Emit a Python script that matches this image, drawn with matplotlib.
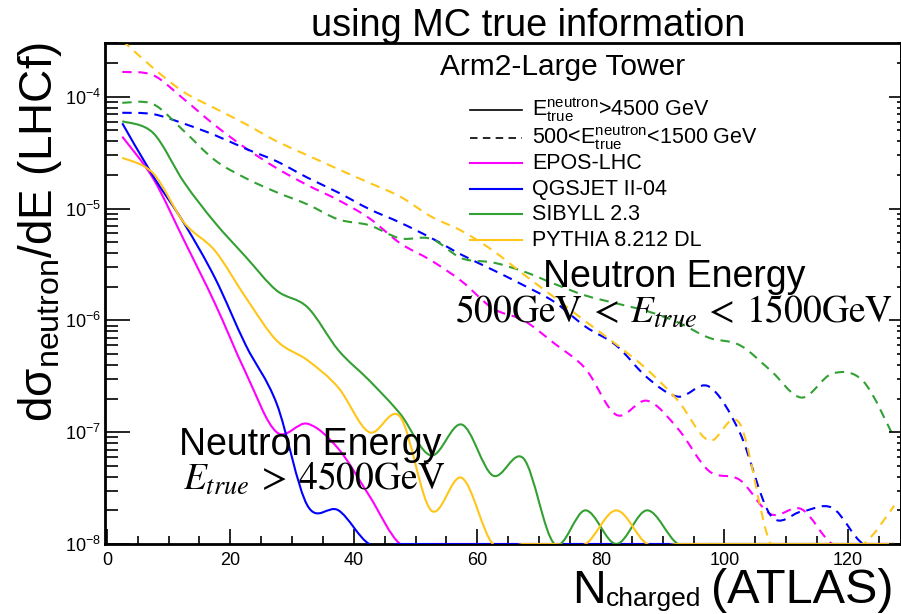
import numpy as np
import matplotlib
matplotlib.use("Agg")
import matplotlib.pyplot as plt
from matplotlib.path import Path
from matplotlib.patches import PathPatch
from matplotlib.lines import Line2D
from matplotlib.ticker import MultipleLocator, LogLocator, NullFormatter

plt.rcParams['font.family'] = ['Liberation Sans', 'DejaVu Sans']
plt.rcParams['mathtext.fontset'] = 'custom'
plt.rcParams['mathtext.rm'] = 'Liberation Sans'
plt.rcParams['mathtext.it'] = 'Liberation Sans:italic'
plt.rcParams['mathtext.bf'] = 'Liberation Sans:bold'
plt.rcParams['mathtext.sf'] = 'Liberation Sans'

W, H = 901, 614
FLOOR = 1e-8

# bin centres of N_charged (5 wide)
n_charged = [2.5, 7.5, 12.5, 17.5, 22.5, 27.5, 32.5, 37.5, 42.5, 47.5, 52.5, 57.5, 62.5,
             67.5, 72.5, 77.5, 82.5, 87.5, 92.5, 97.5, 102.5, 107.5, 112.5, 117.5, 122.5, 127.5]

# E_true > 4500 GeV (solid)
epos_hi = [4.4e-5, 1.86e-5, 5.2e-6, 1.42e-6, 3.4e-7, 1.0e-7, 1.19e-7, 7.1e-8, 2.7e-8, 0, 0, 0, 0,
           0, 0, 0, 0, 0, 0, 0, 0, 0, 0, 0, 0, 0]
qgs_hi = [5.8e-5, 1.95e-5, 7.4e-6, 2.4e-6, 6.0e-7, 1.8e-7, 2.2e-8, 2.0e-8, 0, 0, 0, 0, 0,
          0, 0, 0, 0, 0, 0, 0, 0, 0, 0, 0, 0, 0]
sib_hi = [6.05e-5, 4.75e-5, 1.72e-5, 7.5e-6, 3.7e-6, 1.85e-6, 1.31e-6, 5.4e-7, 2.9e-7, 1.46e-7, 6.2e-8, 1.17e-7, 4.1e-8,
          5.8e-8, 0, 2.0e-8, 0, 2.0e-8, 0, 0, 0, 0, 0, 0, 0, 0]
pyt_hi = [2.85e-5, 2.07e-5, 7.5e-6, 4.2e-6, 1.6e-6, 6.6e-7, 4.4e-7, 2.5e-7, 1.0e-7, 1.37e-7, 2.0e-8, 3.9e-8, 0,
          0, 0, 0, 2.0e-8, 0, 0, 0, 0, 0, 0, 0, 0, 0]

# 500 < E_true < 1500 GeV (dashed)
epos_lo = [1.67e-4, 1.56e-4, 9.5e-5, 5.57e-5, 3.47e-5, 2.3e-5, 1.62e-5, 1.19e-5, 8.2e-6, 4.9e-6, 3.44e-6, 2.23e-6, 1.28e-6,
           1.0e-6, 6.2e-7, 3.7e-7, 1.43e-7, 1.91e-7, 1.07e-7, 4.5e-8, 3.74e-8, 1.85e-8, 2.05e-8, 0, 0, 0]
qgs_lo = [7.2e-5, 7.0e-5, 5.75e-5, 4.54e-5, 3.43e-5, 2.65e-5, 1.89e-5, 1.39e-5, 9.9e-6, 7.5e-6, 5.47e-6, 3.85e-6, 2.83e-6,
          2.06e-6, 1.46e-6, 8.8e-7, 5.96e-7, 3.08e-7, 2.08e-7, 2.56e-7, 9.9e-8, 1.8e-8, 1.95e-8, 2.1e-8, 0, 0]
sib_lo = [8.84e-5, 8.6e-5, 4.93e-5, 2.71e-5, 1.87e-5, 1.4e-5, 1.09e-5, 8.0e-6, 7.1e-6, 5.42e-6, 5.37e-6, 3.59e-6, 3.3e-6,
          2.74e-6, 2.12e-6, 1.67e-6, 1.42e-6, 1.21e-6, 9.6e-7, 7.0e-7, 6.0e-7, 3.56e-7, 2.04e-7, 3.35e-7, 2.85e-7, 8.9e-8]
pyt_lo = [3.2e-4, 1.81e-4, 1.1e-4, 7.9e-5, 5.7e-5, 4.0e-5, 3.0e-5, 2.25e-5, 1.7e-5, 1.28e-5, 8.5e-6, 6.3e-6, 4.22e-6,
          2.58e-6, 1.6e-6, 9.8e-7, 6.1e-7, 3.63e-7, 1.91e-7, 8.4e-8, 1.19e-7, 0, 0, 0, 0, 2.2e-8]

models = ["EPOS-LHC", "QGSJET II-04", "SIBYLL 2.3", "PYTHIA 8.212 DL"]
colors = ["#ff00ff", "#0000ff", "#33a033", "#ffc61a"]
hi_sets = [epos_hi, qgs_hi, sib_hi, pyt_hi]
lo_sets = [epos_lo, qgs_lo, sib_lo, pyt_lo]

DASH = (0, (4.5, 3.2))


def fx(px):
    return px / W


def fy(py):
    return 1 - py / H


def smooth(x, y):
    # smooth curve through the bin centres (like ROOT's "C" option), done in log(y)
    pts = np.column_stack([np.array(x, float), np.log10(np.maximum(y, FLOOR))])
    n = len(pts)
    verts = [pts[0]]
    for i in range(n - 1):
        p0 = pts[max(i - 1, 0)]
        p1 = pts[i]
        p2 = pts[i + 1]
        p3 = pts[min(i + 2, n - 1)]
        verts += [p1 + (p2 - p0) / 6, p2 - (p3 - p1) / 6, p2]
    verts = np.array(verts)
    verts[:, 1] = 10 ** verts[:, 1]
    codes = [Path.MOVETO] + [Path.CURVE4] * (3 * (n - 1))
    return Path(verts, codes)


fig = plt.figure(figsize=(W / 100, H / 100), dpi=100)
ax = fig.add_axes([fx(105), fy(544), fx(901) - fx(105), fy(43) - fy(544)])
ax.set_yscale('log')
ax.set_xlim(-0.3, 128.6)
ax.set_ylim(1e-8, 3.03e-4)

for c, hi, lo in zip(colors, hi_sets, lo_sets):
    ax.add_patch(PathPatch(smooth(n_charged, lo), fill=False, ec=c, lw=1.5, ls=DASH, zorder=3))
    ax.add_patch(PathPatch(smooth(n_charged, hi), fill=False, ec=c, lw=1.5, zorder=3))

for s in ax.spines.values():
    s.set_linewidth(2)

ax.xaxis.set_major_locator(MultipleLocator(20))
ax.xaxis.set_minor_locator(MultipleLocator(5))
ax.tick_params(axis='x', which='major', direction='in', length=11, width=1.2, top=False,
               labelsize=13, pad=6)
ax.tick_params(axis='x', which='minor', direction='in', length=5.5, width=1.2, top=False)
ax.yaxis.set_major_locator(LogLocator(base=10))
ax.yaxis.set_minor_locator(LogLocator(base=10, subs=np.arange(2, 10)))
ax.yaxis.set_minor_formatter(NullFormatter())
ax.tick_params(axis='y', which='major', direction='in', length=18, width=1.2, right=False,
               labelsize=13, pad=3)
ax.tick_params(axis='y', which='minor', direction='in', length=9, width=1.2, right=False)

# shorter ticks on the right side
ax2 = ax.twinx()
ax2.set_yscale('log')
ax2.set_ylim(ax.get_ylim())
ax2.yaxis.set_minor_locator(LogLocator(base=10, subs=np.arange(2, 10)))
ax2.tick_params(axis='y', which='major', direction='in', length=9, width=1.2, labelright=False)
ax2.tick_params(axis='y', which='minor', direction='in', length=3, width=1.2, labelright=False)
ax2.spines['right'].set_linewidth(2)

fig.text(fx(528.5), fy(36), "using MC true information", ha='center', va='baseline', fontsize=27.3)
fig.text(fx(562.5), fy(75), "Arm2-Large Tower", ha='center', va='baseline', fontsize=21.5)

# legend, laid out like the ROOT TLegend
labels = [r"$\mathrm{E^{neutron}_{true}}$>4500 GeV",
          r"500<$\mathrm{E^{neutron}_{true}}$<1500 GeV"] + models
key_colors = ['k', 'k'] + colors
key_styles = ['-', DASH, '-', '-', '-', '-']
row_y = [110, 137.5, 163.3, 189, 214.3, 240]
for yrow, lab, kc, ks in zip(row_y, labels, key_colors, key_styles):
    fig.add_artist(Line2D([fx(470), fx(522)], [fy(yrow), fy(yrow)], color=kc, ls=ks,
                          lw=1.2 if kc == 'k' else 1.5, transform=fig.transFigure))
    fig.text(fx(532), fy(yrow + 6), lab, ha='left', va='baseline', fontsize=15.5)

fig.text(fx(179), fy(455), "Neutron Energy", ha='left', va='baseline', fontsize=27)
fig.text(fx(183), fy(490), r"$E_{true}\:>\:4500\mathrm{GeV}$", ha='left', va='baseline',
         fontsize=27, math_fontfamily='stix')
fig.text(fx(543), fy(287), "Neutron Energy", ha='left', va='baseline', fontsize=27)
fig.text(fx(455), fy(323), r"$500\mathrm{GeV}\:<\:E_{true}\:<\:1500\mathrm{GeV}$", ha='left',
         va='baseline', fontsize=27, math_fontfamily='stix')

fig.text(fx(40), fy(232), r"d$\mathrm{σ_{neutron}}$/dE (LHCf)", rotation=90,
         ha='center', va='center', fontsize=33)
# x title: N, lowered "charged", (ATLAS)
fig.text(fx(572), fy(603), "N", ha='left', va='baseline', fontsize=33.5)
fig.text(fx(606), fy(606), "charged", ha='left', va='baseline', fontsize=19)
fig.text(fx(894), fy(603), "(ATLAS)", ha='right', va='baseline', fontsize=35)

fig.savefig("out.png", dpi=100)
